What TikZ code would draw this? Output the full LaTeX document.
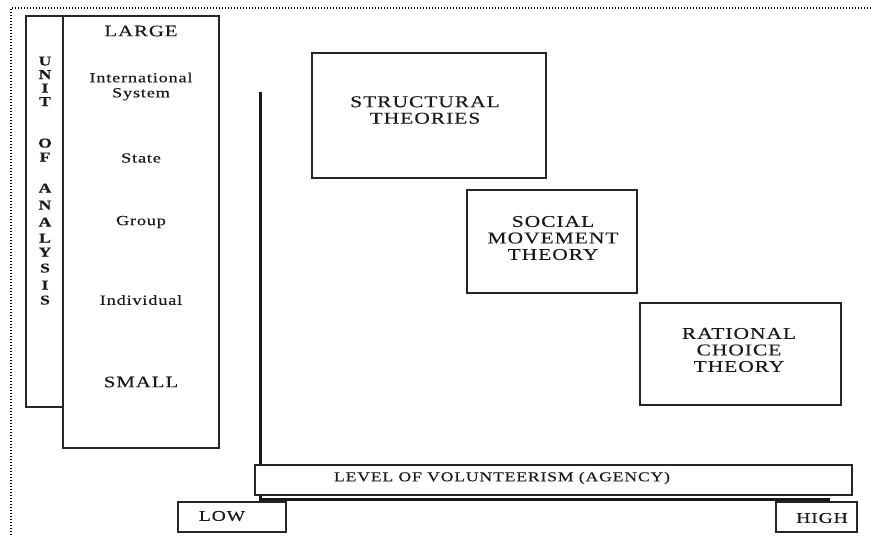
\documentclass[tikz,border=0pt]{standalone}
\usepackage{fontspec}
\setmainfont[FakeStretch=1.3,LetterSpace=6,FakeBold=0.2]{Liberation Serif}
\begin{document}
\begin{tikzpicture}[x=1pt,y=-1pt,
  ink/.style={draw=black!85,line width=1.1pt},
  panel/.style={ink,fill=white,inner sep=0pt},
  theorytext/.style={inner sep=0pt,align=center,text=black!90,font=\fontsize{16.5}{16.5}\selectfont},
  scaletext/.style={inner sep=0pt,align=center,text=black!90,font=\fontsize{14}{15}\selectfont},
  capstext/.style={inner sep=0pt,align=center,text=black!90,font=\fontsize{16}{16}\selectfont},
  endtext/.style={inner sep=0pt,text=black!90,font=\fontsize{15}{15}\selectfont},
  axistext/.style={inner sep=0pt,text=black!90,font=\fontsize{13.6}{14}\selectfont},
  letter/.style={inner sep=0pt,text height=9pt,text depth=0pt,text=black!90,font=\fontsize{13.5}{13.5}\selectfont\bfseries},
]
\useasboundingbox (0,0) rectangle (872,535);

% dotted page frame
\draw[line width=1.2pt,dash pattern=on 1.2pt off 1.8pt] (11,535) -- (11,8) -- (872,8);

% unit-of-analysis column
\node[panel,minimum width=37,minimum height=391] (unitcol) at (44.5,211.5) {};
\node[panel,minimum width=156,minimum height=432] (scalecol) at (141,232) {};

\foreach \ch/\yy [count=\i] in {U/61,N/74.5,I/88,T/101.5,O/143,F/157,A/188,N/205,A/222,L/238,Y/252,S/268,I/285,S/300}
  \node[letter] (unit-\i) at (45,\yy) {\ch};

\node[capstext]  (large)  at (141,31)   {LARGE};
\node[scaletext] (intsys) at (141,86.5) {International\\System};
\node[scaletext] (state)  at (141,158)  {State};
\node[scaletext] (group)  at (141,222)  {Group};
\node[scaletext] (indiv)  at (141,300)  {Individual};
\node[capstext]  (small)  at (141,382)  {SMALL};

% axes
\coordinate (axtop) at (260,92);
\coordinate (axend) at (830,499);
\draw[line width=3pt,black!90] (axtop) |- (axend);

% theory boxes
\node[panel,minimum width=234,minimum height=125] (structbox) at (429,115.5) {};
\node[theorytext] (structtxt) at (425,110) {STRUCTURAL\\THEORIES};

\node[panel,minimum width=170,minimum height=103] (socialbox) at (552,241.5) {};
\node[theorytext] (socialtxt) at (553,238) {SOCIAL\\MOVEMENT\\THEORY};

\node[panel,minimum width=201,minimum height=102] (ratbox) at (740.5,354) {};
\node[theorytext] (rattxt) at (739,350) {RATIONAL\\CHOICE\\THEORY};

% agency axis labels
\node[panel,minimum width=597,minimum height=30] (levelbox) at (553.5,480) {};
\node[axistext] (leveltxt) at (502,478) {LEVEL OF VOLUNTEERISM (AGENCY)};

\node[panel,minimum width=108,minimum height=30] (lowbox) at (232,517) {};
\node[endtext] (lowtxt) at (222,516) {LOW};

\node[panel,minimum width=81,minimum height=30] (highbox) at (816.5,517) {};
\node[endtext] (hightxt) at (822,518) {HIGH};
\end{tikzpicture}
\end{document}
